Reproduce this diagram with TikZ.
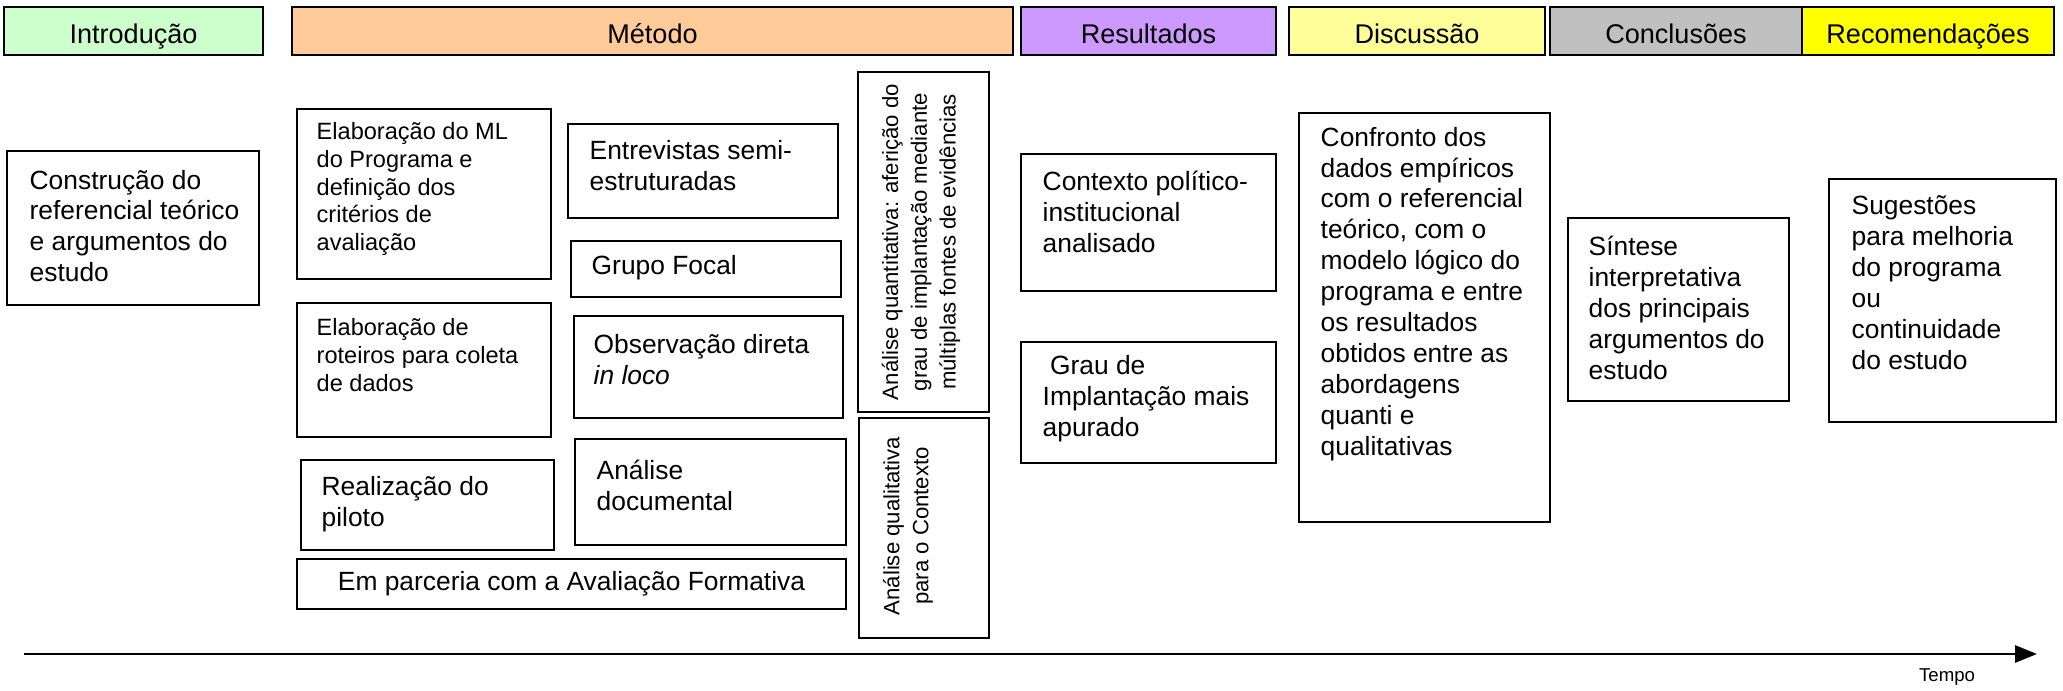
\documentclass[tikz,border=0pt]{standalone}
\usepackage{fontspec}
\setmainfont{Liberation Sans}
\usetikzlibrary{arrows.meta}
\definecolor{corintro}{HTML}{CCFFCC}
\definecolor{cormetodo}{HTML}{FFCC99}
\definecolor{corresult}{HTML}{CC99FF}
\definecolor{cordiscus}{HTML}{FFFF99}
\definecolor{corconcl}{HTML}{C0C0C0}
\definecolor{correcom}{HTML}{FFFF00}
\begin{document}
\begin{tikzpicture}[x=0.01cm,y=-0.01cm,
  cab/.style={draw,line width=0.6pt,minimum height=0.48cm,inner sep=0pt,text height=1.6ex,text depth=0.3ex,font=\fontsize{7.7}{9}\selectfont},
  caixa/.style={draw,line width=0.6pt},
  txt/.style={anchor=west,align=left,inner sep=0pt,font=\fontsize{7.5}{8.8}\selectfont},
  txtp/.style={txt,font=\fontsize{6.7}{7.85}\selectfont},
  vert/.style={rotate=90,align=center,inner sep=0pt,font=\fontsize{6.3}{8.2}\selectfont}]
\useasboundingbox (0,0) rectangle (2063,691);

% cabecalho
\node[cab,fill=corintro,minimum width=2.59cm] (intro) at (133.5,31) {Introdução};
\node[cab,fill=cormetodo,minimum width=7.21cm] (metodo) at (652.5,31) {Método};
\node[cab,fill=corresult,minimum width=2.55cm] (result) at (1148.5,31) {Resultados};
\node[cab,fill=cordiscus,minimum width=2.56cm] (discus) at (1417,31) {Discussão};
\node[cab,fill=corconcl,minimum width=2.52cm] (concl) at (1676,31) {Conclusões};
\node[cab,fill=correcom,minimum width=2.52cm] (recom) at (1928,31) {Recomendações};

% introducao
\draw[caixa] (7,151) rectangle (259,305);
\node[txt] (constr) at (29,226) {Construção do\\referencial teórico\\e argumentos do\\estudo};

% metodo
\draw[caixa] (297,109) rectangle (551,279);
\node[txtp] (elabml) at (316,189) {Elaboração do ML\\do Programa e\\definição dos\\critérios de\\avaliação};
\draw[caixa] (297,303) rectangle (551,437);
\node[txtp] (roteiro) at (316,355) {Elaboração de\\roteiros para coleta\\de dados};
\draw[caixa] (301,460) rectangle (554,550);
\node[txt] (piloto) at (321,504) {Realização do\\piloto};
\draw[caixa] (297,559) rectangle (846,609);
\node[txt,anchor=center] (parceria) at (571.5,584) {Em parceria com a Avaliação Formativa};
\draw[caixa] (568,124) rectangle (838,218);
\node[txt] (entrev) at (589,166) {Entrevistas semi-\\estruturadas};
\draw[caixa] (571,241) rectangle (841,297);
\node[txt] (grupo) at (591,268) {Grupo Focal};
\draw[caixa] (574,316) rectangle (843,418);
\node[txt] (observ) at (593,360) {Observação direta\\\textit{in loco}};
\draw[caixa] (575,439) rectangle (846,545);
\node[txt] (docum) at (596,485) {Análise\\documental};
\draw[caixa] (858,72) rectangle (989,412);
\node[vert] (quanti) at (921,242) {Análise quantitativa: aferição do\\grau de implantação mediante\\múltiplas fontes de evidências};
\draw[caixa] (859,418) rectangle (989,638);
\node[vert] (quali) at (908,526) {Análise qualitativa\\para o Contexto};

% resultados
\draw[caixa] (1021,154) rectangle (1276,291);
\node[txt] (contexto) at (1042,212) {Contexto político-\\institucional\\analisado};
\draw[caixa] (1021,342) rectangle (1276,463);
\node[txt] (grau) at (1042,399) {\hspace*{0.28em}Grau de\\Implantação mais\\apurado};

% discussao, conclusoes, recomendacoes
\draw[caixa] (1299,113) rectangle (1550,522);
\node[txt] (confronto) at (1320,294) {Confronto dos\\dados empíricos\\com o referencial\\teórico, com o\\modelo lógico do\\programa e entre\\os resultados\\obtidos entre as\\abordagens\\quanti e\\qualitativas};
\draw[caixa] (1568,218) rectangle (1789,401);
\node[txt] (sintese) at (1588,308) {Síntese\\interpretativa\\dos principais\\argumentos do\\estudo};
\draw[caixa] (1829,179) rectangle (2056,422);
\node[txt] (sugest) at (1851,283) {Sugestões\\para melhoria\\do programa\\ou\\continuidade\\do estudo};

% eixo do tempo
\coordinate (t0) at (24,654);
\coordinate (t1) at (2037,654);
\draw[line width=0.8pt,-{Triangle[length=0.22cm,width=0.17cm]}] (t0) -- (t1);
\node[inner sep=0pt,font=\fontsize{5.3}{6}\selectfont] (tempo) at (1947,677) {Tempo};
\end{tikzpicture}
\end{document}
